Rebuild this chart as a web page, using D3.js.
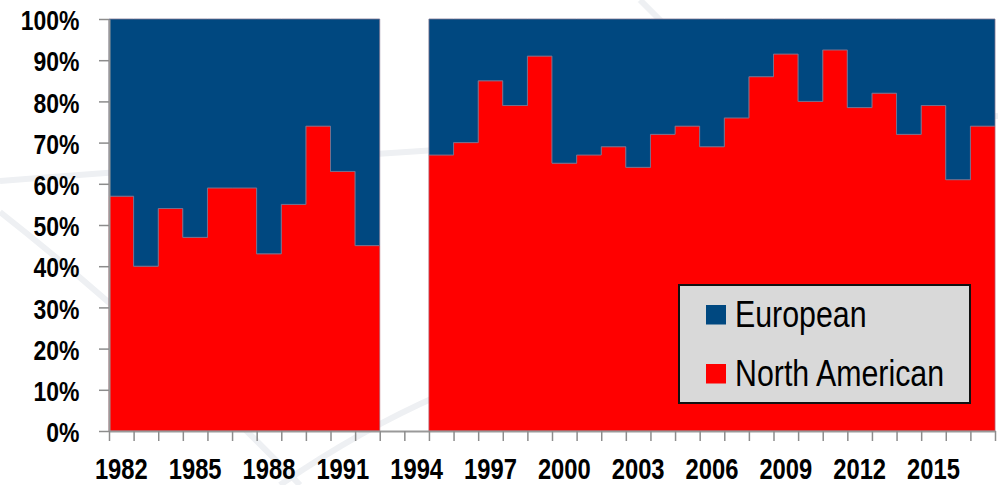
<!DOCTYPE html>
<html>
<head>
<meta charset="utf-8">
<script src="https://cdn.jsdelivr.net/npm/d3@7"></script>
<style>
    html, body { margin: 0; padding: 0; background: #fff; }
    svg { display: block; }
</style>
</head>
<body>
<div id="chart"></div>
<script>
// data (share of total, %), null = no data
const years = [1982, 1983, 1984, 1985, 1986, 1987, 1988, 1989, 1990, 1991, 1992, 1993,
    1994, 1995, 1996, 1997, 1998, 1999, 2000, 2001, 2002, 2003, 2004, 2005,
    2006, 2007, 2008, 2009, 2010, 2011, 2012, 2013, 2014, 2015, 2016, 2017];
const northAmerican = [57, 40, 54, 47, 59, 59, 43, 55, 74, 63, 45, null,
    null, 67, 70, 85, 79, 91, 65, 67, 69, 64, 72, 74,
    69, 76, 86, 91.5, 80, 92.5, 78.5, 82, 72, 79, 61, 74];
const european = [43, 60, 46, 53, 41, 41, 57, 45, 26, 37, 55, null,
    null, 33, 30, 15, 21, 9, 35, 33, 31, 36, 28, 26,
    31, 24, 14, 8.5, 20, 7.5, 21.5, 18, 28, 21, 39, 26];
const yTicks = [0, 10, 20, 30, 40, 50, 60, 70, 80, 90, 100];
const labelYears = [1982, 1985, 1988, 1991, 1994, 1997, 2000, 2003, 2006, 2009, 2012, 2015];
const seriesNames = ['European', 'North American'];
const seriesColors = ['#004880', '#ff0000'];

const width = 998, height = 485;
const narrow = 0.82; // squeeze Liberation Sans to look like Arial Narrow

const svg = d3.select('#chart')
    .append('svg')
    .attr('width', width)
    .attr('height', height);

// faint template swooshes in the background
const deco = svg.append('g')
    .style('fill', 'none')
    .style('stroke', '#eef0f3')
    .style('stroke-width', 6);
deco.append('path').attr('d', 'M0,181 Q400,150 998,116');
deco.append('path').attr('d', 'M0,212 Q150,330 300,485');
deco.append('path').attr('d', 'M640,0 L700,60');
deco.append('path').attr('d', 'M280,485 Q360,430 440,395');

const x = d3.scaleBand()
    .domain(years)
    .range([109, 995])
    .padding(0);
const y = d3.scaleLinear()
    .domain([0, 100])
    .range([431, 19]);
const bw = x.bandwidth();

const rows = years.map((yr, i) => ({ year: yr, na: northAmerican[i], eu: european[i] }));

// split into runs of consecutive years with data
const runs = [];
let cur = [];
rows.forEach(r => {
    if (r.na === null) {
        if (cur.length) runs.push(cur);
        cur = [];
    } else {
        cur.push(r);
    }
});
if (cur.length) runs.push(cur);

const stepPoints = run => {
    const pts = run.map(r => ({ x: x(r.year), na: r.na, eu: r.eu }));
    const last = run[run.length - 1];
    pts.push({ x: x(last.year) + bw, na: last.na, eu: last.eu });
    return pts;
};

const naArea = d3.area()
    .curve(d3.curveStepAfter)
    .x(d => d.x)
    .y0(y(0))
    .y1(d => y(d.na));
const euArea = d3.area()
    .curve(d3.curveStepAfter)
    .x(d => d.x)
    .y0(d => y(d.na))
    .y1(d => y(d.na + d.eu));

const plot = svg.append('g');
runs.forEach(run => {
    const pts = stepPoints(run);
    plot.append('path')
        .attr('d', naArea(pts))
        .style('fill', seriesColors[1])
        .style('stroke', '#b35a6a')
        .style('stroke-width', 0.8);
    plot.append('path')
        .attr('d', euArea(pts))
        .style('fill', seriesColors[0])
        .style('stroke', '#7d7590')
        .style('stroke-width', 0.8);
});

// y axis
const yAxis = svg.append('g')
    .attr('transform', 'translate(109,0)')
    .call(d3.axisLeft(y).tickValues(yTicks).tickSize(10).tickSizeOuter(0).tickFormat(d => d + '%'));
yAxis.select('.domain').style('stroke', '#999').style('stroke-width', 2);
yAxis.selectAll('.tick line').style('stroke', '#8c8c8c').style('stroke-width', 1.5);
yAxis.selectAll('.tick text')
    .attr('x', -29.5 / narrow)
    .attr('dy', '0.38em')
    .attr('transform', `scale(${narrow},1)`)
    .style('font-family', '"Liberation Sans", Arial, sans-serif')
    .style('font-weight', 'bold')
    .style('font-size', '28px')
    .style('fill', '#000');

// x axis: ticks on every band edge
const xEdges = d3.scaleLinear()
    .domain([0, years.length])
    .range([109, 995]);
const xTickAxis = svg.append('g')
    .attr('transform', 'translate(0,431)')
    .call(d3.axisBottom(xEdges).tickValues(d3.range(0, years.length + 1)).tickSize(10).tickSizeOuter(0).tickFormat(''));
xTickAxis.select('.domain').style('stroke', '#999').style('stroke-width', 2);
xTickAxis.selectAll('.tick line').style('stroke', '#8c8c8c').style('stroke-width', 1.5);

const xLabelAxis = svg.append('g')
    .attr('transform', 'translate(0,431)')
    .call(d3.axisBottom(x).tickValues(labelYears).tickSize(0));
xLabelAxis.select('.domain').remove();
xLabelAxis.selectAll('.tick text')
    .attr('y', 48)
    .attr('dy', 0)
    .attr('transform', `scale(${narrow},1)`)
    .style('font-family', '"Liberation Sans", Arial, sans-serif')
    .style('font-weight', 'bold')
    .style('font-size', '29px')
    .style('fill', '#000');

// legend
const legend = svg.append('g').attr('transform', 'translate(679,285)');
legend.append('rect')
    .attr('width', 291)
    .attr('height', 118)
    .style('fill', '#d9d9d9')
    .style('stroke', '#111')
    .style('stroke-width', 2);

const items = legend.selectAll('.legend-item')
    .data(seriesNames)
    .enter()
    .append('g')
    .attr('class', 'legend-item')
    .attr('transform', (_, i) => `translate(27,${20 + i * 59})`);
items.append('rect')
    .attr('width', 20)
    .attr('height', 19.5)
    .style('fill', (_, i) => seriesColors[i]);
items.append('text')
    .attr('transform', `translate(29,21.5) scale(${narrow},1)`)
    .text(d => d)
    .style('font-family', '"Liberation Sans", Arial, sans-serif')
    .style('font-size', '37px')
    .style('fill', '#000');
</script>
</body>
</html>
